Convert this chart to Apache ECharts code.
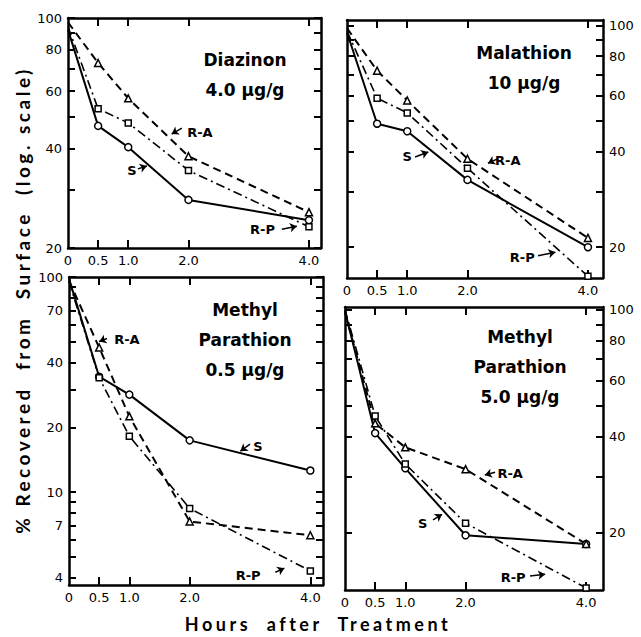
<!DOCTYPE html>
<html><head><meta charset="utf-8">
<script src="https://cdn.jsdelivr.net/npm/echarts@6/dist/echarts.min.js"></script>
<style>
html,body{margin:0;padding:0;background:#fff}
#c{width:641px;height:637px}
text[style*="Lato"], text[font-family*="Lato"]{letter-spacing:3.5px}
</style>
</head><body><div id="c"></div>
<script>
// ---- data ----
const hours = [0, 0.5, 1, 2, 4];
const xLabelValues = [0, 0.5, 1, 2, 4];
const xTickValues = [0.5, 1, 2, 4];

const diazinonS  = [92, 47, 40.5, 28, 24.3];
const diazinonRA = [97, 73, 57, 38, 25.7];
const diazinonRP = [94, 53, 48, 34.4, 23.2];

const malathionS  = [95, 49, 46.4, 32.6, 20];
const malathionRA = [98, 72, 58, 38, 21.4];
const malathionRP = [96, 59, 53, 35.5, 16.2];

const mp05S  = [98, 34.4, 28.4, 17.4, 12.6];
const mp05RA = [96, 47, 22.5, 7.3, 6.3];
const mp05RP = [95, 34, 18.2, 8.4, 4.3];

const mp50S  = [99, 41, 31.8, 19.6, 18.4];
const mp50RA = [98, 44, 37, 31.6, 18.4];
const mp50RP = [100, 46.4, 32.8, 21.4, 13.4];

const yTicksA = [20, 30, 40, 50, 60, 70, 80, 90, 100];
const yLabelsA = [20, 40, 60, 80, 100];
const yTicksB = [4, 5, 6, 7, 8, 9, 10, 20, 30, 40, 50, 60, 70, 80, 90, 100];
const yLabelsB = [4, 7, 10, 20, 40, 70, 100];

const panelTitles = [
  ['Diazinon', '4.0 µg/g'],
  ['Malathion', '10 µg/g'],
  ['Methyl', 'Parathion', '0.5 µg/g'],
  ['Methyl', 'Parathion', '5.0 µg/g']
];
const yTitle = '% Recovered  from  Surface  (log. scale)';
const xTitle = 'Hours  after  Treatment';

// ---- layout ----
const FONT = 'DejaVu Sans';
const panels = [
  { grid: {left: 68, top: 18, width: 253, height: 230}, xMax: 4.2, yMin: 20, yMax: 100,
    yTicks: yTicksA, yLabels: yLabelsA, side: 'left', S: diazinonS, RA: diazinonRA, RP: diazinonRP,
    titlePos: [245, 60], notes: [
      {t: 'R-A', at: [2.19, 45.0], from: [1.89, 46.3], to: [1.72, 44.4]},
      {t: 'S', at: [1.06, 34.5], from: [1.16, 34.8], to: [1.31, 35.5]},
      {t: 'R-P', at: [3.23, 22.7], from: [3.55, 22.8], to: [3.80, 23.3]}
    ]},
  { grid: {left: 347, top: 20, width: 256, height: 258}, xMax: 4.25, yMin: 16, yMax: 104,
    yTicks: yTicksA, yLabels: yLabelsA, side: 'right', S: malathionS, RA: malathionRA, RP: malathionRP,
    titlePos: [524, 53], notes: [
      {t: 'S', at: [1.0, 38.5], from: [1.13, 38.5], to: [1.35, 39.9]},
      {t: 'R-A', at: [2.67, 37.6], from: [2.49, 37.9], to: [2.34, 36.8]},
      {t: 'R-P', at: [2.91, 18.6], from: [3.17, 18.8], to: [3.46, 19.3]}
    ]},
  { grid: {left: 69, top: 277, width: 254, height: 308}, xMax: 4.21, yMin: 3.7, yMax: 100,
    yTicks: yTicksB, yLabels: yLabelsB, side: 'left', S: mp05S, RA: mp05RA, RP: mp05RP,
    titlePos: [245, 310], notes: [
      {t: 'R-A', at: [0.96, 51.3], from: [0.63, 51.8], to: [0.50, 50.1]},
      {t: 'S', at: [3.13, 16.3], from: [3.0, 16.7], to: [2.84, 15.5]},
      {t: 'R-P', at: [2.97, 4.11], from: [3.42, 4.24], to: [3.57, 4.43]}
    ]},
  { grid: {left: 345, top: 307, width: 258, height: 283}, xMax: 4.28, yMin: 13.2, yMax: 102,
    yTicks: yTicksA, yLabels: yLabelsA, side: 'right', S: mp50S, RA: mp50RA, RP: mp50RP,
    titlePos: [520, 337], notes: [
      {t: 'R-A', at: [2.74, 30.7], from: [2.49, 30.9], to: [2.32, 30.3]},
      {t: 'S', at: [1.29, 21.4], from: [1.46, 21.9], to: [1.61, 22.8]},
      {t: 'R-P', at: [2.79, 14.4], from: [3.07, 14.6], to: [3.32, 14.8]}
    ]}
];

const lineAxis = {onZero: false, lineStyle: {color: '#000', width: 2.5}};
const grids = [], xAxes = [], yAxes = [], series = [], graphics = [];

function fmtX(v) { return v === 0 ? '0' : v.toFixed(1); }
function fmtY(v) { return String(Math.round(v)); }

panels.forEach((p, i) => {
  grids.push(Object.assign({outerBoundsMode: 'none', containLabel: false}, p.grid));
  ['bottom', 'top'].forEach(pos => {
    xAxes.push({
      type: 'value', gridIndex: i, position: pos, min: 0, max: p.xMax,
      axisLine: lineAxis,
      axisTick: {show: true, inside: true, length: 8, customValues: xTickValues, lineStyle: {color: '#000', width: 2}},
      axisLabel: {show: pos === 'bottom', customValues: xLabelValues, formatter: fmtX,
        fontFamily: FONT, fontSize: 13, color: '#000', margin: 6},
      splitLine: {show: false}
    });
  });
  ['left', 'right'].forEach(pos => {
    yAxes.push({
      type: 'log', logBase: 10, gridIndex: i, position: pos, min: p.yMin, max: p.yMax,
      axisLine: lineAxis,
      axisTick: {show: true, inside: true, length: 7, customValues: p.yTicks, lineStyle: {color: '#000', width: 2}},
      axisLabel: {show: pos === p.side, customValues: p.yLabels, formatter: fmtY,
        fontFamily: FONT, fontSize: 13, color: '#000', margin: 6},
      splitLine: {show: false}, minorTick: {show: false}
    });
  });
  const mk = arr => hours.map((h, k) => k === 0 ? {value: [h, arr[k]], symbol: 'none'} : [h, arr[k]]);
  const base = {type: 'line', xAxisIndex: 2 * i, yAxisIndex: 2 * i, symbolSize: 7,
    itemStyle: {color: '#fff', borderColor: '#000', borderWidth: 1.5}, silent: true, z: 3};
  series.push(Object.assign({}, base, {
    name: 'S', data: mk(p.S), symbol: 'circle',
    lineStyle: {color: '#000', width: 2, type: 'solid'},
    markPoint: {
      symbol: 'circle', symbolSize: 1, silent: true, itemStyle: {color: 'rgba(0,0,0,0)'},
      data: p.notes.map(n => ({coord: n.at, label: {show: true, position: 'inside', formatter: n.t,
        color: '#000', fontFamily: FONT, fontSize: 13, fontWeight: 'bold'}}))
    },
    markLine: {
      silent: true, symbol: ['none', 'arrow'], symbolSize: 7,
      lineStyle: {type: 'solid', color: '#000', width: 1.5}, label: {show: false},
      data: p.notes.map(n => [{coord: n.from}, {coord: n.to}])
    }
  }));
  series.push(Object.assign({}, base, {
    name: 'R-A', data: mk(p.RA), symbol: 'triangle',
    lineStyle: {color: '#000', width: 2, type: [8, 5]}
  }));
  series.push(Object.assign({}, base, {
    name: 'R-P', data: mk(p.RP), symbol: 'rect', symbolSize: 6,
    lineStyle: {color: '#000', width: 1.6, type: [9, 4, 2, 4]}
  }));
  panelTitles[i].forEach((line, k) => {
    graphics.push({type: 'text', x: p.titlePos[0], y: p.titlePos[1] + k * 30, z: 10,
      style: {text: line, fontFamily: FONT, fontSize: 17, fontWeight: 'bold', fill: '#000', align: 'center', verticalAlign: 'middle'}});
  });
});

graphics.push({type: 'text', x: 22, y: 300, rotation: Math.PI / 2, z: 10,
  style: {text: yTitle, fontFamily: 'Lato', fontSize: 19, fontWeight: 'bold', fill: '#000', align: 'center', verticalAlign: 'middle'}});
graphics.push({type: 'text', x: 318, y: 624, z: 10,
  style: {text: xTitle, fontFamily: 'Lato', fontSize: 18, fontWeight: 'bold', fill: '#000', align: 'center', verticalAlign: 'middle'}});

const chart = echarts.init(document.getElementById('c'), null, {renderer: 'svg'});
chart.setOption({
  animation: false,
  backgroundColor: '#fff',
  grid: grids, xAxis: xAxes, yAxis: yAxes, series: series, graphic: graphics
});
</script>
</body></html>
